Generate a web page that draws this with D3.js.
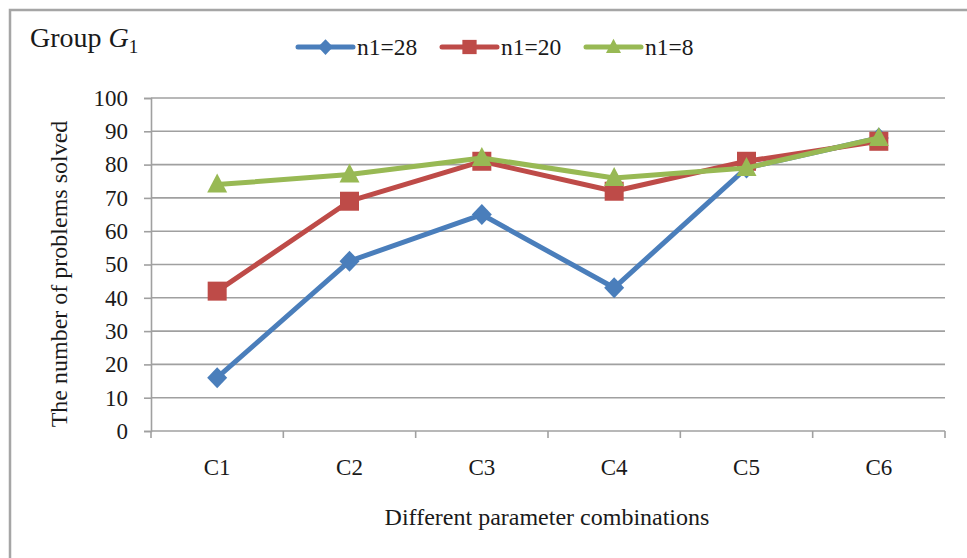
<!DOCTYPE html>
<html><head><meta charset="utf-8">
<script src="https://cdn.jsdelivr.net/npm/d3@7"></script>
<style>body{margin:0;background:#fff;} svg{display:block;}</style>
</head><body>
<svg id="chart" width="967" height="558"></svg>
<script>
const categories = ["C1","C2","C3","C4","C5","C6"];
const seriesNames = ["n1=28","n1=20","n1=8"];
const n28 = [16, 51, 65, 43, 79, 88];
const n20 = [42, 69, 81, 72, 81, 87];
const n8  = [74, 77, 82, 76, 79, 88];
const yTicks = [0,10,20,30,40,50,60,70,80,90,100];

(function(){
const colors = ["#4A7EBB","#BE4B48","#98B954"];
const series = [n28, n20, n8];

const svg = d3.select("#chart");
const font = "Liberation Serif, Times New Roman, serif";
const ink = "#1a1a1a";

// outer frame
svg.append("rect").attr("x",10).attr("y",10).attr("width",1000).attr("height",600)
  .attr("fill","#fff").attr("stroke","#A5A5A5").attr("stroke-width",2.5);

const pL = 151, pR = 945, pT = 98, pB = 431;
const x = d3.scaleBand().domain(categories).range([pL,pR]);
const y = d3.scaleLinear().domain([0,100]).range([pB,pT]);

// gridlines
svg.append("g").selectAll("line").data(yTicks.filter(d=>d>0)).join("line")
  .attr("x1",pL).attr("x2",pR).attr("y1",d=>y(d)).attr("y2",d=>y(d))
  .attr("stroke","#A0A0A0").attr("stroke-width",1.6);

// y axis
const yAxis = svg.append("g").attr("transform",`translate(${pL},0)`)
  .call(d3.axisLeft(y).tickValues(yTicks).tickSize(7).tickPadding(16));
yAxis.select(".domain").attr("stroke","#A0A0A0").attr("stroke-width",1.6);
yAxis.selectAll(".tick line").attr("stroke","#A0A0A0").attr("stroke-width",1.6);
yAxis.selectAll("text").attr("font-family",font).attr("font-size",23).attr("fill",ink);

// x axis with boundary ticks
const xAxis = svg.append("g").attr("transform",`translate(0,${pB})`);
xAxis.append("line").attr("x1",pL).attr("x2",pR).attr("y1",0).attr("y2",0)
  .attr("stroke","#A0A0A0").attr("stroke-width",1.6);
const bounds = categories.map(c=>x(c)).concat([pR]);
xAxis.selectAll("line.tk").data(bounds).join("line").attr("class","tk")
  .attr("x1",d=>d).attr("x2",d=>d).attr("y1",0).attr("y2",7)
  .attr("stroke","#A0A0A0").attr("stroke-width",1.6);
xAxis.selectAll("text").data(categories).join("text")
  .attr("x",d=>x(d)+x.bandwidth()/2).attr("y",44)
  .attr("text-anchor","middle").attr("font-family",font).attr("font-size",23).attr("fill",ink)
  .text(d=>d);

// axis titles
svg.append("text").attr("x",547).attr("y",525).attr("text-anchor","middle")
  .attr("font-family",font).attr("font-size",24).attr("fill",ink)
  .text("Different parameter combinations");
svg.append("text").attr("transform","translate(67,274) rotate(-90)").attr("text-anchor","middle")
  .attr("font-family",font).attr("font-size",24).attr("fill",ink)
  .text("The number of problems solved");

// title
const t = svg.append("text").attr("x",30).attr("y",47).attr("font-family",font).attr("font-size",28).attr("fill",ink);
t.append("tspan").text("Group ");
t.append("tspan").attr("font-style","italic").text("G");
t.append("tspan").attr("font-size",19).attr("dy",6).text("1");

// markers
function marker(g, i, s){
  if(i===0){
    g.append("path").attr("d",`M0,${-s*1.05} L${s},0 L0,${s*1.05} L${-s},0 Z`).attr("fill",colors[i]);
  } else if(i===1){
    g.append("rect").attr("x",-s*0.95).attr("y",-s*0.95).attr("width",s*1.9).attr("height",s*1.9).attr("fill",colors[i]);
  } else {
    g.append("path").attr("d",`M0,${-s*1.1} L${s},${s*0.8} L${-s},${s*0.8} Z`).attr("fill",colors[i]);
  }
}

const line = d3.line().x((d,i)=>x(categories[i])+x.bandwidth()/2).y(d=>y(d));
series.forEach((s,i)=>{
  const g = svg.append("g");
  g.append("path").datum(s).attr("d",line).attr("fill","none")
    .attr("stroke",colors[i]).attr("stroke-width",5).attr("stroke-linejoin","round");
  s.forEach((v,j)=>{
    const m = g.append("g").attr("transform",`translate(${x(categories[j])+x.bandwidth()/2},${y(v)})`);
    marker(m,i,10);
  });
});

// legend
const legX = [298, 442, 586];
seriesNames.forEach((n,i)=>{
  const g = svg.append("g").attr("transform",`translate(${legX[i]},47)`);
  g.append("line").attr("x1",0).attr("x2",55).attr("stroke",colors[i]).attr("stroke-width",5).attr("stroke-linecap","round");
  const m = g.append("g").attr("transform","translate(27.5,0)");
  marker(m,i,7.5);
  g.append("text").attr("x",59).attr("y",8).attr("font-family",font).attr("font-size",23.5).attr("fill",ink).text(n);
});
})();
</script>
</body></html>
